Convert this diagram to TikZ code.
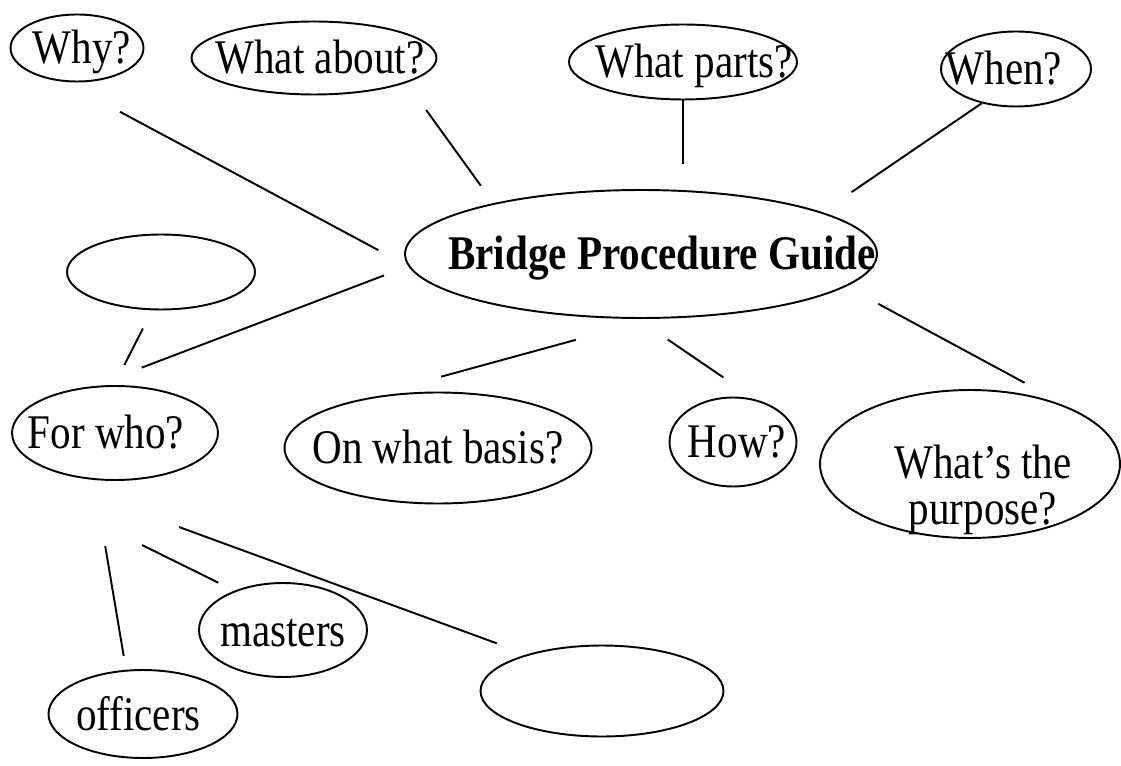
\documentclass[tikz,border=0pt]{standalone}
\usepackage{fontspec}
\setmainfont{Liberation Serif}[FakeStretch=0.85]
\usetikzlibrary{shapes.geometric}

\newcommand{\btext}[2][0cm]{\makebox[0pt]{\hspace*{#1}\hspace*{#1}#2}}

\begin{document}
\begin{tikzpicture}[
    x=0.02cm, y=-0.02cm,
    font=\fontsize{27.5pt}{25pt}\selectfont,
    bubble/.style={ellipse, draw, line width=1.1pt, inner sep=0pt, text height=0.64cm, text depth=0cm},
    link/.style={line width=1.1pt}
]
    \useasboundingbox (0,0) rectangle (1121,766);

    % Centre
    \node[bubble, minimum width=9.44cm, minimum height=2.56cm] (bridge) at (641,254) {\btext[0.42cm]{\textbf{Bridge Procedure Guide}}};

    % Top row
    \node[bubble, minimum width=2.66cm, minimum height=1.34cm] (why) at (77,48) {\btext[0.1cm]{Why?}};
    \node[bubble, minimum width=4.9cm, minimum height=1.46cm] (whatabout) at (314,58) {\btext[0.12cm]{What about?}};
    \node[bubble, minimum width=4.56cm, minimum height=1.5cm] (whatparts) at (683,62) {\btext[0.22cm]{What parts?}};
    \node[bubble, minimum width=3.0cm, minimum height=1.5cm] (when) at (1016,69) {\btext[-0.24cm]{When?}};

    % Middle row
    \node[bubble, minimum width=3.76cm, minimum height=1.5cm] (blankup) at (161,272) {};
    \node[bubble, minimum width=4.12cm, minimum height=1.88cm] (forwho) at (115,433) {\btext[-0.18cm]{For who?}};
    \node[bubble, minimum width=6.14cm, minimum height=2.22cm] (basis) at (438,448) {\btext{On what basis?}};
    \node[bubble, minimum width=2.54cm, minimum height=1.78cm] (how) at (733,442) {\btext[0.08cm]{How?}};
    \node[bubble, minimum width=6.0cm, minimum height=2.96cm, text height=0.6cm] (purpose) at (970,464) {\btext[0.26cm]{\begin{tabular}[t]{@{}c@{}}What's the\\purpose?\end{tabular}}};

    % For who?
    \node[bubble, minimum width=3.36cm, minimum height=1.88cm] (masters) at (283,630) {\btext{masters}};
    \node[bubble, minimum width=3.78cm, minimum height=1.76cm] (officers) at (143,714) {\btext[-0.09cm]{officers}};
    \node[bubble, minimum width=4.86cm, minimum height=1.82cm] (blankdown) at (602,691) {};

    \coordinate (tomasters) at (142,545);
    \coordinate (toblank) at (179,527);

    % Links
    \draw[link, shorten <=1.27cm, shorten >=0.68cm] (why.-111.5) -- (bridge.183);
    \draw[link, shorten <=0.67cm, shorten >=0.43cm] (whatabout.-15.7) -- (bridge.161.3);
    \draw[link, shorten >=0.5cm] (whatparts.south) -- (whatparts.south |- bridge.north);
    \draw[link, shorten >=0.71cm] (when.-135) -- (bridge.13.7);
    \draw[link, shorten <=0.41cm, shorten >=0.45cm] (blankup.-103) -- (forwho.91);
    \draw[link, shorten <=1.04cm, shorten >=0.52cm] (forwho.115.6) -- (bridge.183.7);
    \draw[link, shorten <=1.59cm, shorten >=1.88cm] (bridge.-80.8) -- (basis.152);
    \draw[link, shorten <=0.73cm, shorten >=0.78cm] (bridge.-93.6) -- (how.62.4);
    \draw[link, shorten <=0.73cm, shorten >=1.26cm] (bridge.-9.7) -- (purpose.25.4);
    \draw[link, shorten <=1.34cm, shorten >=0.28cm] (forwho.-114.7) -- (officers.111);
    \draw[link, shorten >=0.36cm] (tomasters) -- (masters.141.5);
    \draw[link, shorten >=0.64cm] (toblank) -- (blankdown.154);
\end{tikzpicture}
\end{document}
